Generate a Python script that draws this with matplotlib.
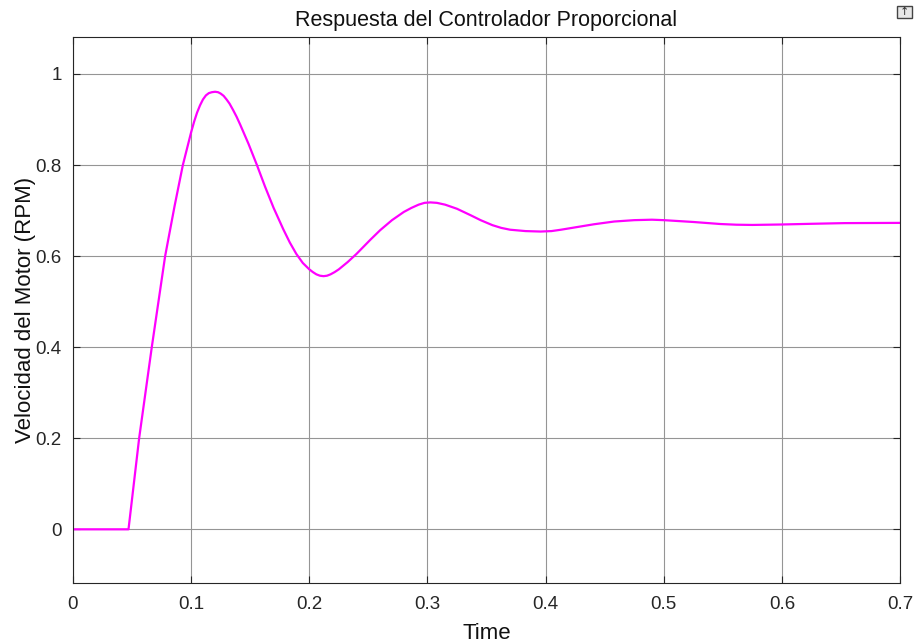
import numpy as np
import matplotlib.pyplot as plt
from matplotlib.patches import Rectangle

# step response of the motor with a proportional controller
t = [0, 0.047, 0.0515, 0.056, 0.0667, 0.078, 0.086, 0.093, 0.1, 0.1025, 0.105,
     0.1075, 0.11, 0.1125, 0.115, 0.1175, 0.1203, 0.1228, 0.125, 0.1275, 0.13,
     0.1325, 0.1355, 0.1385, 0.1415, 0.1485, 0.1557, 0.1625, 0.1698, 0.178,
     0.1835, 0.189, 0.1945, 0.2, 0.203, 0.206, 0.209, 0.2121, 0.215, 0.218,
     0.2215, 0.225, 0.2325, 0.24, 0.2517, 0.26, 0.27, 0.28, 0.2865, 0.2925,
     0.2975, 0.3025, 0.308, 0.315, 0.325, 0.3364, 0.345, 0.355, 0.3625, 0.37,
     0.383, 0.3958, 0.405, 0.413, 0.427, 0.441, 0.458, 0.475, 0.49, 0.5, 0.5125,
     0.525, 0.548, 0.5615, 0.575, 0.6, 0.625, 0.653, 0.7]
speed = [0, 0, 0.1, 0.2, 0.4, 0.6, 0.71, 0.8, 0.872, 0.895, 0.915,
         0.931, 0.944, 0.953, 0.958, 0.960, 0.961, 0.960, 0.957, 0.952, 0.944,
         0.935, 0.921, 0.906, 0.889, 0.847, 0.8, 0.753, 0.706, 0.659,
         0.630, 0.605, 0.585, 0.571, 0.565, 0.560, 0.557, 0.556, 0.557, 0.560,
         0.565, 0.571, 0.587, 0.605, 0.636, 0.657, 0.679, 0.697, 0.706, 0.713,
         0.717, 0.718, 0.717, 0.713, 0.704, 0.690, 0.679, 0.668, 0.662, 0.658,
         0.655, 0.654, 0.655, 0.658, 0.664, 0.670, 0.676, 0.679, 0.680, 0.679, 0.677,
         0.675, 0.6705, 0.669, 0.6685, 0.6695, 0.671, 0.6725, 0.673]

xticks = [0, 0.1, 0.2, 0.3, 0.4, 0.5, 0.6, 0.7]
yticks = [0, 0.2, 0.4, 0.6, 0.8, 1]

plt.rcParams['font.family'] = ['Liberation Sans', 'DejaVu Sans']

fig = plt.figure(figsize=(9.19, 6.42), dpi=100)
ax = fig.add_axes([0.0794, 0.0914, 0.9, 0.8505])

ax.plot(t, speed, color='#ff00ff', lw=1.6)

ax.set_xlim(0, 0.7)
ax.set_ylim(-0.1186, 1.0806)
ax.set_xticks(xticks)
ax.set_xticklabels(['0', '0.1', '0.2', '0.3', '0.4', '0.5', '0.6', '0.7'])
ax.set_yticks(yticks)
ax.set_yticklabels(['0', '0.2', '0.4', '0.6', '0.8', '1'])
ax.grid(True, color='#959595', lw=0.8)
ax.tick_params(direction='in', length=5, width=0.8, colors='#262626',
               labelsize=13.5, top=True, right=True)
ax.tick_params(axis='x', pad=9)
ax.tick_params(axis='y', pad=8)
for s in ax.spines.values():
    s.set_color('#262626')
    s.set_linewidth(0.8)

ax.set_title('Respuesta del Controlador Proporcional', fontsize=15.5, color='#111111', pad=8)
ax.set_xlabel('Time', fontsize=16, color='#111111', labelpad=7)
ax.set_ylabel('Velocidad del Motor (RPM)', fontsize=16, color='#111111', labelpad=0)

# small toolbar button in the corner
fig.patches.append(Rectangle((897 / 919, 1 - 18 / 642), 15 / 919, 12 / 642,
                             transform=fig.transFigure, facecolor='#e8e8e8',
                             edgecolor='#444444', lw=1))
fig.text(904.5 / 919, 1 - 12 / 642, '\u2191', ha='center', va='center',
         fontsize=8, color='#333333', family=['DejaVu Sans'])

fig.savefig('out.png', dpi=100)
